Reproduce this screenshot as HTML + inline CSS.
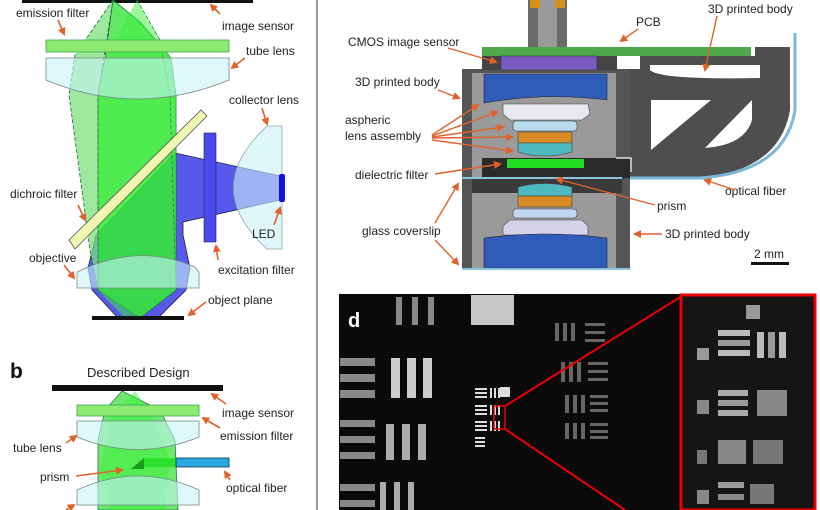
<!DOCTYPE html>
<html><head><meta charset="utf-8"><style>
html,body{margin:0;padding:0;background:#fff}
svg{display:block}
text{font-family:"Liberation Sans",Arial,sans-serif;font-size:12px;fill:#222}
</style></head><body>
<svg width="820" height="510" viewBox="0 0 820 510" xmlns="http://www.w3.org/2000/svg">
<defs>
<marker id="ar" markerWidth="8" markerHeight="8" refX="6" refY="4" orient="auto" markerUnits="userSpaceOnUse">
<path d="M0,0 L8,4 L0,8 z" fill="#e0622a"/></marker>
</defs>
<rect width="820" height="510" fill="#fff"/>
<line x1="317" y1="0" x2="317" y2="510" stroke="#999" stroke-width="2"/>

<!-- ===== Panel a ===== -->
<rect x="22" y="0" width="231" height="3" fill="#111"/>
<!-- blue excitation beam -->
<path d="M175,153 L280,176 L280,200 L183,222 L183,235 L190,268 L186,290 L158,318 L118,318 L92,290 L88,268 L96,235 Z" fill="#3b3be6" fill-opacity="0.85" stroke="#223" stroke-width="0.8"/>
<!-- green beams -->
<path d="M113,0 L140,22 L171,58 L176,95 L176,290 L140,318 L98,290 L98,95 L105,58 Z" fill="#2ee02e" fill-opacity="0.75" stroke="#264" stroke-width="0.8"/>
<path d="M137,0 L171,58 L176,95 L176,290 L140,318 L125,318 L98,290 L98,95 L105,58 Z" fill="#3af03a" fill-opacity="0.5"/>
<path d="M113,0 L75,55 L69,95 L90,250 L98,290 L98,95 Z" fill="#7ee07e" fill-opacity="0.75" stroke="#264" stroke-width="0.8" stroke-dasharray="4,2"/>
<path d="M137,0 L160,40 L170,95 L176,290" fill="none" stroke="#264" stroke-width="0.6" stroke-dasharray="4,2"/>
<!-- emission filter -->
<rect x="46" y="40" width="183" height="12" fill="#8fe870" stroke="#3a5" stroke-width="0.8"/>
<!-- tube lens -->
<path d="M46,58 L229,58 L229,80 Q137,118 46,80 Z" fill="#c8f4f8" fill-opacity="0.6" stroke="#788" stroke-width="0.8"/>
<!-- collector lens -->
<path d="M282,126 L282,249 L267,249 Q200,188 267,126 Z" fill="#c9f2f8" fill-opacity="0.6" stroke="#8aa" stroke-width="0.8"/>
<rect x="279" y="174" width="6" height="28" rx="2" fill="#1010e8"/>
<!-- excitation filter -->
<rect x="204" y="133" width="12" height="109" fill="#4a4aee" stroke="#226" stroke-width="0.6"/>
<!-- dichroic -->
<path d="M69,240 L201,110 L207,116 L75,249 Z" fill="#f0f7b0" stroke="#555" stroke-width="0.8"/>
<!-- objective -->
<path d="M77,272 Q138,242 195,267 L199,272 L199,288 L77,288 Z" fill="#c8f4f8" fill-opacity="0.6" stroke="#788" stroke-width="0.8"/>
<rect x="92" y="316" width="92" height="4" fill="#111"/>
<g fill="#333">
<text x="16" y="17">emission filter</text>
<text x="222" y="30">image sensor</text>
<text x="246" y="55">tube lens</text>
<text x="229" y="104">collector lens</text>
<text x="10" y="198">dichroic filter</text>
<text x="252" y="238">LED</text>
<text x="29" y="262">objective</text>
<text x="218" y="274">excitation filter</text>
<text x="208" y="304">object plane</text>
</g>
<g stroke="#e0622a" stroke-width="1.6" marker-end="url(#ar)">
<line x1="58" y1="20" x2="64" y2="34"/>
<line x1="220" y1="14" x2="211" y2="5"/>
<line x1="245" y1="58" x2="232" y2="68"/>
<line x1="262" y1="108" x2="267" y2="124"/>
<line x1="78" y1="205" x2="85" y2="220"/>
<line x1="274" y1="225" x2="280" y2="208"/>
<line x1="64" y1="265" x2="74" y2="278"/>
<line x1="218" y1="260" x2="216" y2="246"/>
<line x1="206" y1="302" x2="189" y2="315"/>
</g>

<!-- ===== Panel b ===== -->
<text x="10" y="378" style="font-size:21px;font-weight:bold;fill:#111">b</text>
<text x="87" y="377" style="font-size:13px">Described Design</text>
<rect x="52" y="385" width="171" height="6" fill="#111"/>
<path d="M122,391 L160,410 L175,440 L178,510 L98,510 L98,440 L105,410 Z" fill="#2ee02e" fill-opacity="0.7" stroke="#264" stroke-width="0.7"/>
<path d="M135,391 L155,420 L170,460 L165,510 L110,510 L100,470 L110,420 Z" fill="#3af03a" fill-opacity="0.5"/>
<rect x="77" y="405" width="122" height="11" fill="#8fe870" stroke="#3a5" stroke-width="0.8"/>
<path d="M77,421 L199,421 L199,437 Q138,462 77,437 Z" fill="#c8f4f8" fill-opacity="0.6" stroke="#788" stroke-width="0.8"/>
<rect x="143" y="458" width="33" height="9" fill="#2ee02e"/>
<rect x="176" y="458" width="53" height="9" fill="#2aa8e0" stroke="#135" stroke-width="0.8"/>
<path d="M131,469 L144,458 L144,469 Z" fill="#1a9a1a"/>
<path d="M77,490 Q138,462 199,490 L199,505 L77,505 Z" fill="#c8f4f8" fill-opacity="0.6" stroke="#788" stroke-width="0.8"/>
<text x="222" y="417">image sensor</text>
<text x="220" y="440">emission filter</text>
<text x="13" y="452">tube lens</text>
<text x="40" y="481">prism</text>
<text x="226" y="492">optical fiber</text>
<g stroke="#e0622a" stroke-width="1.6" marker-end="url(#ar)">
<line x1="226" y1="404" x2="212" y2="394"/>
<line x1="220" y1="428" x2="203" y2="418"/>
<line x1="66" y1="443" x2="76" y2="436"/>
<line x1="76" y1="476" x2="122" y2="470"/>
<line x1="230" y1="480" x2="225" y2="472"/>
<line x1="66" y1="510" x2="74" y2="505"/>
</g>

<!-- ===== Panel c ===== -->
<!-- screw -->
<rect x="528" y="0" width="39" height="47" fill="#6a6a6a"/>
<rect x="538" y="0" width="19" height="47" fill="#9a9a9a"/>
<rect x="530" y="0" width="10" height="8" fill="#d8901a"/>
<rect x="555" y="0" width="10" height="8" fill="#d8901a"/>
<!-- arm -->
<path d="M630,69 L630,178 L700,178 Q780,170 790,110 L790,47 L755,47 L755,56 L640,56 L640,69 Z" fill="#4e4e4e"/>
<path d="M650,70 Q660,80 760,78 L760,65 L650,65 Z" fill="#fff"/>
<path d="M651,100 L711,100 L651,150 Z" fill="#fff"/>
<path d="M705,148 L752,100 L752,120 Q745,145 705,148 Z" fill="#fff"/>
<path d="M616,178 L700,178 Q785,172 795,110 L795,33" fill="none" stroke="#7bb8dc" stroke-width="3"/>
<!-- body -->
<rect x="462" y="69" width="168" height="201" fill="#555"/>
<rect x="482" y="56" width="135" height="14" fill="#444"/>
<rect x="472" y="73" width="144" height="195" fill="#9a9a9a"/>
<rect x="482" y="158" width="148" height="20" fill="#2a2a2a"/>
<rect x="472" y="178" width="150" height="15" fill="#3a3a3a"/>
<!-- PCB -->
<rect x="482" y="47" width="269" height="9" fill="#4fa84a"/>
<rect x="501" y="56" width="96" height="14" fill="#7a5cc0" stroke="#333" stroke-width="0.6"/>
<!-- lenses -->
<path d="M484,74 L607,74 L607,100 Q545,92 484,103 Z" fill="#2e5cb8" stroke="#223" stroke-width="0.6"/>
<path d="M503,104 L588,104 L590,114 L582,120 L510,120 L503,114 Z" fill="#e6e8ee" stroke="#444" stroke-width="0.6"/>
<rect x="513" y="121" width="64" height="10" rx="3" fill="#b8dcee" stroke="#444" stroke-width="0.6"/>
<rect x="518" y="132" width="54" height="11" fill="#d88a24" stroke="#444" stroke-width="0.6"/>
<path d="M518,143 L572,143 L572,152 Q545,160 518,152 Z" fill="#4cb8c0" stroke="#444" stroke-width="0.6"/>
<rect x="507" y="159" width="77" height="9" fill="#22dd22"/>
<path d="M616,158 L631,158 L631,172" fill="none" stroke="#fff" stroke-width="1.2"/>
<rect x="462" y="177" width="160" height="2" fill="#8bc4e0"/>
<path d="M518,187 Q545,180 572,187 L572,196 L518,196 Z" fill="#4cb8c0" stroke="#444" stroke-width="0.6"/>
<rect x="518" y="196" width="54" height="11" fill="#d88a24" stroke="#444" stroke-width="0.6"/>
<rect x="513" y="209" width="64" height="9" rx="3" fill="#c0d6f2" stroke="#444" stroke-width="0.6"/>
<path d="M510,220 L582,220 L588,226 L588,235 L503,235 L503,226 Z" fill="#d6d2ea" stroke="#444" stroke-width="0.6"/>
<path d="M484,238 Q545,230 607,238 L607,268 L484,268 Z" fill="#2e5cb8" stroke="#223" stroke-width="0.6"/>
<rect x="462" y="268" width="168" height="2" fill="#8bc4e0"/>
<text x="636" y="26">PCB</text>
<text x="708" y="13">3D printed body</text>
<text x="348" y="46">CMOS image sensor</text>
<text x="355" y="86">3D printed body</text>
<text x="345" y="124">aspheric</text>
<text x="345" y="140">lens assembly</text>
<text x="355" y="179">dielectric filter</text>
<text x="725" y="195">optical fiber</text>
<text x="657" y="210">prism</text>
<text x="362" y="235">glass coverslip</text>
<text x="665" y="238">3D printed body</text>
<text x="754" y="258">2 mm</text>
<rect x="751" y="262" width="38" height="3" fill="#111"/>
<g stroke="#e0622a" stroke-width="1.4" marker-end="url(#ar)">
<line x1="638" y1="29" x2="621" y2="41"/>
<line x1="717" y1="16" x2="705" y2="70"/>
<line x1="448" y1="48" x2="496" y2="62"/>
<line x1="438" y1="90" x2="459" y2="98"/>
<line x1="432" y1="135" x2="478" y2="105"/>
<line x1="432" y1="136" x2="497" y2="112"/>
<line x1="432" y1="137" x2="503" y2="127"/>
<line x1="432" y1="138" x2="512" y2="137"/>
<line x1="432" y1="140" x2="512" y2="151"/>
<line x1="435" y1="174" x2="500" y2="164"/>
<line x1="735" y1="190" x2="705" y2="180"/>
<line x1="655" y1="205" x2="557" y2="179"/>
<line x1="435" y1="223" x2="458" y2="184"/>
<line x1="435" y1="240" x2="458" y2="264"/>
<line x1="662" y1="234" x2="635" y2="234"/>
</g>

<!-- ===== Panel d ===== -->
<rect x="339" y="294" width="341" height="216" fill="#0a0a0a"/>
<text x="348" y="327" style="font-size:20px;font-weight:bold;fill:#fff">d</text>
<rect x="471" y="295" width="43" height="30" fill="#ddd" opacity="0.9"/>
<g fill="#888">
<rect x="396" y="297" width="6" height="28"/><rect x="412" y="297" width="6" height="28"/><rect x="428" y="297" width="6" height="28"/>
<rect x="340" y="358" width="35" height="8"/><rect x="340" y="374" width="35" height="8"/><rect x="340" y="390" width="35" height="8"/>
<rect x="340" y="420" width="35" height="7"/><rect x="340" y="436" width="35" height="7"/><rect x="340" y="452" width="35" height="7"/>
<rect x="340" y="484" width="35" height="7"/><rect x="340" y="500" width="35" height="7"/>
</g>
<g fill="#ccc">
<rect x="391" y="358" width="9" height="40"/><rect x="407" y="358" width="9" height="40"/><rect x="423" y="358" width="9" height="40"/>
</g>
<g fill="#aaa">
<rect x="386" y="424" width="8" height="36"/><rect x="402" y="424" width="8" height="36"/><rect x="418" y="424" width="8" height="36"/>
<rect x="380" y="482" width="6" height="28"/><rect x="394" y="482" width="6" height="28"/><rect x="408" y="482" width="6" height="28"/>
</g>
<g fill="#666">
<rect x="555" y="323" width="4" height="18"/><rect x="563" y="323" width="4" height="18"/><rect x="571" y="323" width="4" height="18"/>
<rect x="585" y="323" width="20" height="3"/><rect x="585" y="331" width="20" height="3"/><rect x="585" y="339" width="20" height="3"/>
<rect x="561" y="362" width="4" height="20"/><rect x="569" y="362" width="4" height="20"/><rect x="577" y="362" width="4" height="20"/>
<rect x="588" y="362" width="20" height="3"/><rect x="588" y="370" width="20" height="3"/><rect x="588" y="378" width="20" height="3"/>
<rect x="565" y="395" width="4" height="18"/><rect x="573" y="395" width="4" height="18"/><rect x="581" y="395" width="4" height="18"/>
<rect x="590" y="395" width="18" height="3"/><rect x="590" y="402" width="18" height="3"/><rect x="590" y="409" width="18" height="3"/>
<rect x="565" y="423" width="4" height="16"/><rect x="573" y="423" width="4" height="16"/><rect x="581" y="423" width="4" height="16"/>
<rect x="590" y="423" width="18" height="3"/><rect x="590" y="430" width="18" height="3"/><rect x="590" y="436" width="18" height="3"/>
</g>
<g fill="#ddd" font-size="0">
<rect x="475" y="388" width="12" height="2"/><rect x="475" y="392" width="12" height="2"/><rect x="475" y="396" width="12" height="2"/>
<rect x="490" y="388" width="2" height="10"/><rect x="494" y="388" width="2" height="10"/><rect x="498" y="388" width="2" height="10"/>
<rect x="475" y="405" width="12" height="2"/><rect x="475" y="409" width="12" height="2"/><rect x="475" y="413" width="12" height="2"/>
<rect x="490" y="405" width="2" height="10"/><rect x="494" y="405" width="2" height="10"/><rect x="498" y="405" width="2" height="10"/>
<rect x="475" y="421" width="12" height="2"/><rect x="475" y="425" width="12" height="2"/><rect x="475" y="429" width="12" height="2"/>
<rect x="490" y="421" width="2" height="10"/><rect x="494" y="421" width="2" height="10"/><rect x="498" y="421" width="2" height="10"/>
<rect x="500" y="387" width="10" height="10"/>
<rect x="475" y="437" width="10" height="2"/><rect x="475" y="441" width="10" height="2"/><rect x="475" y="445" width="10" height="2"/>
</g>
<rect x="494" y="406" width="11" height="23" fill="none" stroke="#e00" stroke-width="1.5"/>
<line x1="505" y1="406" x2="682" y2="296" stroke="#e00" stroke-width="2"/>
<line x1="505" y1="429" x2="625" y2="510" stroke="#e00" stroke-width="2"/>
<rect x="681" y="295" width="134" height="215" fill="#151515" stroke="#e00" stroke-width="3"/>
<g fill="#bbb">
<rect x="746" y="305" width="14" height="14" fill="#999"/>
<rect x="718" y="330" width="32" height="6"/><rect x="718" y="340" width="32" height="6" fill="#999"/><rect x="718" y="350" width="32" height="6"/>
<rect x="757" y="332" width="7" height="26"/><rect x="768" y="332" width="7" height="26" fill="#999"/><rect x="779" y="332" width="7" height="26"/>
<rect x="697" y="348" width="12" height="12" fill="#999"/>
<rect x="718" y="390" width="30" height="6" fill="#aaa"/><rect x="718" y="400" width="30" height="6" fill="#999"/><rect x="718" y="410" width="30" height="6" fill="#aaa"/>
<rect x="757" y="390" width="30" height="26" fill="#888"/>
<rect x="697" y="400" width="12" height="14" fill="#888"/>
<rect x="718" y="440" width="28" height="24" fill="#888"/>
<rect x="753" y="440" width="30" height="24" fill="#777"/>
<rect x="697" y="450" width="10" height="14" fill="#777"/>
<rect x="718" y="482" width="26" height="6" fill="#999"/><rect x="718" y="494" width="26" height="6" fill="#888"/>
<rect x="750" y="484" width="24" height="20" fill="#777"/>
<rect x="697" y="490" width="12" height="14" fill="#888"/>
</g>
</svg>
</body></html>
